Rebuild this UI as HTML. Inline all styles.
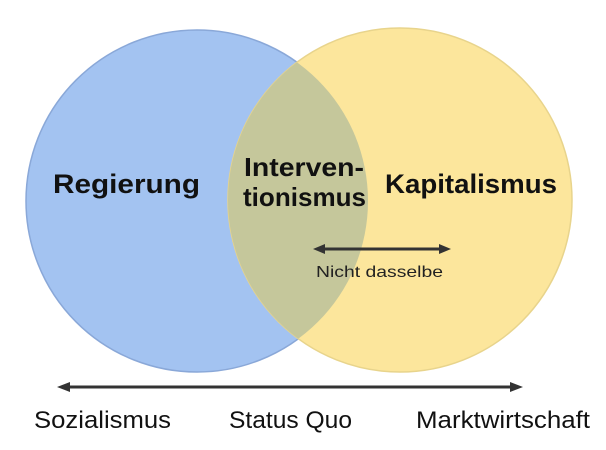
<!DOCTYPE html>
<html><head><meta charset="utf-8"><style>
html,body{margin:0;padding:0;background:#fff;}
svg{display:block;}
text{font-family:"Liberation Sans",Arial,sans-serif;}
</style></head><body>
<svg width="606" height="450" viewBox="0 0 606 450" xmlns="http://www.w3.org/2000/svg">
<defs>
<clipPath id="cb"><circle cx="197" cy="201" r="171"/></clipPath>
</defs>
<circle cx="197" cy="201" r="171" fill="#a3c3f1" stroke="#8aa8d8" stroke-width="1.5"/>
<circle cx="400" cy="200" r="172" fill="#fce69c" stroke="#e8d48c" stroke-width="1.5"/>
<circle cx="400" cy="200" r="172" fill="#c5c79b" clip-path="url(#cb)"/>
<path d="M298,60 A171,171 0 0 1 298,342" fill="none" stroke="#a8a57a" stroke-width="1.2" clip-path="url(#cb)"/>
<text x="53" y="193" font-size="27" font-weight="bold" fill="#111" textLength="147" lengthAdjust="spacingAndGlyphs">Regierung</text>
<text x="385" y="193" font-size="27" font-weight="bold" fill="#111" textLength="172" lengthAdjust="spacingAndGlyphs">Kapitalismus</text>
<text x="244" y="176" font-size="26" font-weight="bold" fill="#111" textLength="120" lengthAdjust="spacingAndGlyphs">Interven-</text>
<text x="243" y="206" font-size="26" font-weight="bold" fill="#111" textLength="123" lengthAdjust="spacingAndGlyphs">tionismus</text>
<line x1="322" y1="249" x2="442" y2="249" stroke="#333" stroke-width="3"/>
<polygon points="313,249 325,244 325,254" fill="#333"/>
<polygon points="451,249 439,244 439,254" fill="#333"/>
<text x="316" y="277" font-size="16" fill="#222" textLength="127" lengthAdjust="spacingAndGlyphs">Nicht dasselbe</text>
<line x1="66" y1="387" x2="514" y2="387" stroke="#333" stroke-width="3"/>
<polygon points="57,387 70,382 70,392" fill="#333"/>
<polygon points="523,387 510,382 510,392" fill="#333"/>
<text x="34" y="428" font-size="24" fill="#111" textLength="137" lengthAdjust="spacingAndGlyphs">Sozialismus</text>
<text x="229" y="428" font-size="24" fill="#111" textLength="123" lengthAdjust="spacingAndGlyphs">Status Quo</text>
<text x="416" y="428" font-size="24" fill="#111" textLength="174" lengthAdjust="spacingAndGlyphs">Marktwirtschaft</text>
</svg>
</body></html>
